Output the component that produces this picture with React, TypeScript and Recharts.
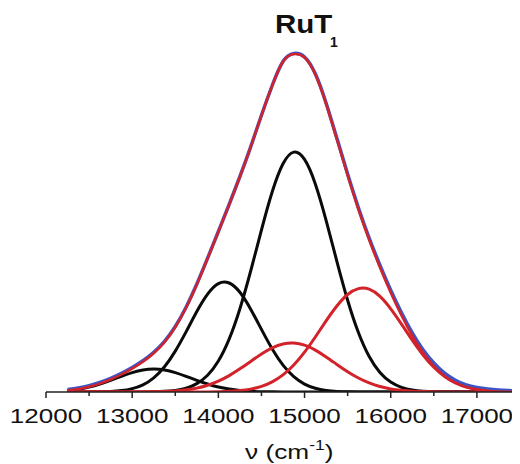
import React from 'react';
import { LineChart, Line, XAxis, YAxis } from 'recharts';

const nu = [12250, 12375, 12500, 12625, 12750, 12875, 13000, 13125, 13250, 13375, 13500, 13625, 13750, 13875, 14000, 14125, 14250, 14375, 14500, 14625, 14750, 14875, 15000, 15125, 15250, 15375, 15500, 15625, 15750, 15875, 16000, 16125, 16250, 16375, 16500, 16625, 16750, 16875, 17000, 17125, 17250, 17375, 17500];

const black1 = [1.5, 2.9, 5.0, 8.0, 11.7, 15.7, 19.4, 22.1, 23.0, 22.1, 19.4, 15.7, 11.7, 8.0, 5.0, 2.9, 1.5, 0.75, 0.34, 0.14, 0.05, 0, 0, 0, 0, 0, 0, 0, 0, 0, 0, 0, 0, 0, 0, 0, 0, 0, 0, 0, 0, 0, 0];

const black2 = [0, 0.02, 0.06, 0.19, 0.54, 1.4, 3.4, 7.2, 14.2, 25.2, 40.9, 60.1, 80.5, 97.9, 108.4, 109.0, 99.7, 82.8, 62.6, 43.0, 26.9, 15.3, 7.9, 3.7, 1.6, 0.6, 0.2, 0.07, 0.02, 0, 0, 0, 0, 0, 0, 0, 0, 0, 0, 0, 0, 0, 0];

const black3 = [0, 0, 0, 0, 0, 0, 0.02, 0.08, 0.23, 0.64, 1.6, 3.8, 8.4, 16.8, 31.0, 52.9, 83.3, 121.0, 162.0, 200.2, 228.2, 239.9, 232.6, 208.1, 171.7, 130.7, 91.8, 59.5, 35.5, 19.6, 10.0, 4.7, 2.0, 0.8, 0.3, 0.1, 0, 0, 0, 0, 0, 0, 0];

const red1 = [0, 0, 0, 0, 0, 0.01, 0.04, 0.1, 0.24, 0.53, 1.1, 2.2, 3.9, 6.8, 10.9, 16.4, 23.2, 30.6, 38.0, 44.1, 48.0, 48.9, 46.8, 41.9, 35.1, 27.6, 20.3, 14.0, 9.1, 5.5, 3.1, 1.7, 0.8, 0.4, 0.17, 0.07, 0, 0, 0, 0, 0, 0, 0];

const red2 = [0, 0, 0, 0, 0, 0, 0, 0, 0, 0, 0, 0, 0.04, 0.11, 0.28, 0.66, 1.4, 2.9, 5.7, 10.2, 17.1, 27.0, 39.8, 55.0, 71.1, 86.0, 97.5, 103.4, 102.8, 95.6, 83.2, 67.9, 51.8, 37.0, 24.8, 15.5, 9.1, 5.0, 2.6, 1.2, 0.56, 0.24, 0.09];

const measured = [2.5, 4.0, 6.3, 9.6, 13.7, 18.7, 24.5, 31.2, 39.7, 50.6, 65.5, 84.8, 108.0, 133.8, 160.5, 187.5, 215.5, 245.2, 276.7, 306.5, 330.5, 338.5, 335.0, 318.2, 289.0, 253.8, 218.0, 184.3, 154.0, 126.8, 101.8, 79.3, 59.2, 42.3, 29.0, 18.8, 11.8, 7.1, 4.5, 2.9, 1.9, 1.4, 1.0];

const fit = [1.5, 3.0, 5.2, 8.4, 12.5, 17.5, 23.4, 30.2, 38.7, 49.8, 64.8, 84.2, 107.6, 133.5, 160.3, 187.4, 215.4, 245.2, 276.7, 306.5, 330.5, 338.0, 334.5, 317.5, 288.0, 252.5, 216.5, 182.5, 152.0, 124.5, 99.3, 76.5, 56.2, 39.3, 26.0, 16.1, 9.3, 5.1, 2.7, 1.3, 0.6, 0.3, 0.1];

const xTicks = [12000, 12500, 13000, 13500, 14000, 14500, 15000, 15500, 16000, 16500, 17000, 17500];

const data = nu.map((v, i) => ({
  nu: v,
  b1: black1[i],
  b2: black2[i],
  b3: black3[i],
  r1: red1[i],
  r2: red2[i],
  meas: measured[i],
  fit: fit[i],
}));

const FONT = '"Liberation Sans", Arial, Helvetica, sans-serif';
const RED = '#d2232a';
const BLUE = '#3b55c6';
const BLACK = '#0a0a0a';

const AxisTick = (props: any) => {
  const { x, y, payload } = props;
  const v = payload.value;
  if (v > 17400) return null;
  const major = v % 1000 === 0;
  return (
    <g transform={`translate(${x},${y})`}>
      <line x1={0} y1={0} x2={0} y2={major ? 6 : 4} stroke="#222" strokeWidth={1.5} />
      {major && (
        <text
          transform="scale(1.24,1)"
          x={0}
          y={31}
          textAnchor="middle"
          fontSize={21}
          fontFamily={FONT}
          fill="#111"
        >
          {v}
        </text>
      )}
    </g>
  );
};

export default function App() {
  return (
    <div style={{ position: 'relative', width: 512, height: 456 }}>
      <LineChart
        width={512}
        height={456}
        data={data}
        margin={{ top: 24, right: 0, bottom: 0, left: 38 }}
      >
        <XAxis
          dataKey="nu"
          type="number"
          domain={[12000, 17500]}
          ticks={xTicks}
          interval={0}
          height={72}
          tickSize={0}
          tickMargin={0}
          tickLine={false}
          tick={<AxisTick />}
          axisLine={{ stroke: '#222', strokeWidth: 1.5 }}
          allowDataOverflow
        />
        <YAxis hide domain={[0, 360]} allowDataOverflow />
        <Line type="natural" dataKey="b1" stroke={BLACK} strokeWidth={3} dot={false} isAnimationActive={false} />
        <Line type="natural" dataKey="b2" stroke={BLACK} strokeWidth={3} dot={false} isAnimationActive={false} />
        <Line type="natural" dataKey="b3" stroke={BLACK} strokeWidth={3} dot={false} isAnimationActive={false} />
        <Line type="natural" dataKey="r1" stroke={RED} strokeWidth={3} dot={false} isAnimationActive={false} />
        <Line type="natural" dataKey="r2" stroke={RED} strokeWidth={3} dot={false} isAnimationActive={false} />
        <Line type="natural" dataKey="meas" stroke={BLUE} strokeWidth={3.5} dot={false} isAnimationActive={false} />
        <Line type="natural" dataKey="fit" stroke={RED} strokeWidth={2.5} dot={false} isAnimationActive={false} />
      </LineChart>
      <svg
        width={512}
        height={456}
        style={{ position: 'absolute', left: 0, top: 0, pointerEvents: 'none' }}
      >
        <text transform="translate(267,25) scale(1.18,1)" fontSize={25} fontWeight="bold" fontFamily={FONT} fill="#111">
          RuT
        </text>
        <text x={322} y={39} fontSize={14} fontWeight="bold" fontFamily={FONT} fill="#111">
          1
        </text>
        <text transform="translate(237,451) scale(1.25,1)" fontSize={21} fontFamily={FONT} fill="#111">
          ν (cm
          <tspan dy={-9} fontSize={14}>-1</tspan>
          <tspan dy={9}>)</tspan>
        </text>
      </svg>
    </div>
  );
}
